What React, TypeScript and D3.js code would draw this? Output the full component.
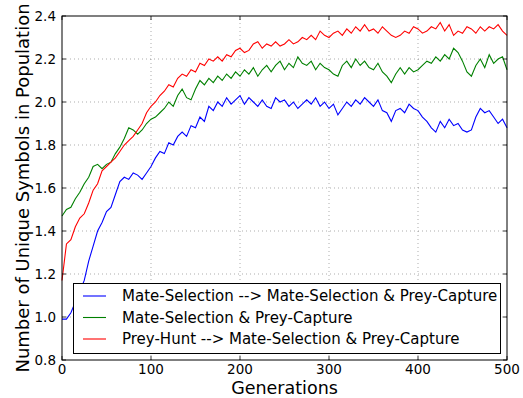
import { useEffect, useRef } from "react";
import * as d3 from "d3";

// generations sampled every 5 steps (0..500)
const generations = d3.range(0, 501, 5);

const mateSelectionToBoth = [
  0.99, 0.99, 1.02, 1.07, 1.12, 1.17, 1.26, 1.33, 1.40, 1.44,
  1.49, 1.51, 1.57, 1.63, 1.65, 1.64, 1.67, 1.66, 1.64, 1.67,
  1.70, 1.74, 1.77, 1.76, 1.81, 1.80, 1.84, 1.86, 1.84, 1.89,
  1.88, 1.93, 1.91, 1.98, 1.96, 2.00, 1.98, 2.02, 1.99, 2.01,
  2.03, 1.99, 2.02, 2.00, 1.98, 2.01, 1.98, 1.97, 2.02, 2.00,
  2.01, 1.98, 2.00, 1.97, 1.99, 2.01, 1.99, 2.02, 1.98, 2.00,
  1.97, 1.99, 1.94, 1.97, 2.00, 1.98, 2.01, 1.99, 2.02, 2.00,
  1.98, 2.01, 1.96, 1.95, 1.91, 1.96, 1.97, 1.95, 1.99, 1.97,
  1.96, 1.93, 1.91, 1.88, 1.86, 1.91, 1.88, 1.92, 1.89, 1.90,
  1.87, 1.86, 1.87, 1.93, 1.97, 1.95, 1.96, 1.93, 1.90, 1.92,
  1.88,
];

const mateSelectionPreyCapture = [
  1.47, 1.50, 1.51, 1.55, 1.58, 1.62, 1.65, 1.70, 1.71, 1.69,
  1.71, 1.72, 1.76, 1.79, 1.83, 1.88, 1.87, 1.85, 1.87, 1.90,
  1.92, 1.93, 1.95, 1.97, 2.00, 1.98, 2.03, 2.06, 2.02, 2.01,
  2.06, 2.10, 2.08, 2.11, 2.09, 2.12, 2.10, 2.13, 2.11, 2.14,
  2.12, 2.15, 2.13, 2.16, 2.12, 2.15, 2.17, 2.14, 2.17, 2.19,
  2.15, 2.18, 2.16, 2.21, 2.18, 2.17, 2.19, 2.15, 2.18, 2.16,
  2.15, 2.13, 2.12, 2.17, 2.19, 2.16, 2.20, 2.17, 2.19, 2.16,
  2.15, 2.18, 2.14, 2.12, 2.09, 2.13, 2.16, 2.13, 2.16, 2.14,
  2.15, 2.17, 2.19, 2.18, 2.21, 2.19, 2.22, 2.20, 2.25, 2.23,
  2.19, 2.14, 2.12, 2.17, 2.20, 2.16, 2.22, 2.18, 2.20, 2.21,
  2.15,
];

const preyHuntToBoth = [
  1.17, 1.34, 1.36, 1.42, 1.46, 1.48, 1.53, 1.59, 1.62, 1.68,
  1.70, 1.72, 1.74, 1.77, 1.80, 1.82, 1.84, 1.87, 1.90, 1.95,
  1.98, 2.00, 2.03, 2.05, 2.08, 2.07, 2.11, 2.13, 2.12, 2.15,
  2.14, 2.18, 2.17, 2.20, 2.19, 2.21, 2.19, 2.22, 2.21, 2.24,
  2.25, 2.23, 2.24, 2.27, 2.28, 2.25, 2.27, 2.26, 2.28, 2.26,
  2.27, 2.29, 2.27, 2.28, 2.30, 2.29, 2.31, 2.29, 2.33, 2.31,
  2.30, 2.32, 2.33, 2.31, 2.34, 2.32, 2.35, 2.33, 2.36, 2.33,
  2.34, 2.32, 2.35, 2.33, 2.31, 2.30, 2.31, 2.33, 2.32, 2.35,
  2.34, 2.32, 2.33, 2.35, 2.34, 2.37, 2.33, 2.36, 2.31, 2.33,
  2.32, 2.35, 2.34, 2.32, 2.35, 2.33, 2.35, 2.34, 2.36, 2.33,
  2.31,
];

const seriesNames = [
  "Mate-Selection --> Mate-Selection & Prey-Capture",
  "Mate-Selection & Prey-Capture",
  "Prey-Hunt --> Mate-Selection & Prey-Capture",
];
const seriesColors = ["#0000ff", "#008000", "#ff0000"];
const xTicks = [0, 100, 200, 300, 400, 500];
const yTicks = [0.8, 1.0, 1.2, 1.4, 1.6, 1.8, 2.0, 2.2, 2.4];

const width = 523;
const height = 398;
const margin = { top: 16, right: 16, bottom: 38, left: 62 };
const font = "DejaVu Sans, sans-serif";

export default function App() {
  const ref = useRef<SVGSVGElement>(null);

  useEffect(() => {
    const svg = d3.select(ref.current);
    svg.selectAll("*").remove();

    const x = d3.scaleLinear().domain([0, 500]).range([margin.left, width - margin.right]);
    const y = d3.scaleLinear().domain([0.8, 2.4]).range([height - margin.bottom, margin.top]);
    const [x0, x1] = x.range();
    const [y0, y1] = y.range();

    svg.append("rect").attr("width", width).attr("height", height).attr("fill", "#fff");

    // dotted grid
    const grid = svg.append("g").attr("stroke", "#000").attr("stroke-opacity", 0.55)
      .attr("stroke-width", 0.6).attr("stroke-dasharray", "1,3");
    grid.selectAll("line.gx").data(xTicks.slice(1, -1)).join("line")
      .attr("x1", d => x(d)).attr("x2", d => x(d)).attr("y1", y0).attr("y2", y1);
    grid.selectAll("line.gy").data(yTicks.slice(1, -1)).join("line")
      .attr("x1", x0).attr("x2", x1).attr("y1", d => y(d)).attr("y2", d => y(d));

    const all = [mateSelectionToBoth, mateSelectionPreyCapture, preyHuntToBoth];
    const line = d3.line<number>()
      .x((_, i) => x(generations[i]))
      .y(d => y(d));

    svg.append("g").selectAll("path").data(all).join("path")
      .attr("d", d => line(d))
      .attr("fill", "none")
      .attr("stroke", (_, i) => seriesColors[i])
      .attr("stroke-width", 1.1);

    // frame
    svg.append("rect").attr("x", x0).attr("y", y1).attr("width", x1 - x0).attr("height", y0 - y1)
      .attr("fill", "none").attr("stroke", "#000").attr("stroke-width", 1);

    // inward ticks on all four sides
    const ticks = svg.append("g").attr("stroke", "#000").attr("stroke-width", 0.8);
    xTicks.forEach(t => {
      ticks.append("line").attr("x1", x(t)).attr("x2", x(t)).attr("y1", y0).attr("y2", y0 - 4);
      ticks.append("line").attr("x1", x(t)).attr("x2", x(t)).attr("y1", y1).attr("y2", y1 + 4);
    });
    yTicks.forEach(t => {
      ticks.append("line").attr("x1", x0).attr("x2", x0 + 4).attr("y1", y(t)).attr("y2", y(t));
      ticks.append("line").attr("x1", x1).attr("x2", x1 - 4).attr("y1", y(t)).attr("y2", y(t));
    });

    svg.append("g").selectAll("text").data(xTicks).join("text")
      .attr("x", d => x(d)).attr("y", y0 + 14)
      .attr("text-anchor", "middle").attr("font-family", font).attr("font-size", 13.5)
      .text(d => d);
    svg.append("g").selectAll("text").data(yTicks).join("text")
      .attr("x", x0 - 6).attr("y", d => y(d) + 5)
      .attr("text-anchor", "end").attr("font-family", font).attr("font-size", 13.5)
      .text(d => d3.format(".1f")(d));

    svg.append("text").attr("x", (x0 + x1) / 2).attr("y", 394)
      .attr("text-anchor", "middle").attr("font-family", font).attr("font-size", 17.5)
      .text("Generations");
    svg.append("text").attr("transform", `translate(29,${(y0 + y1) / 2}) rotate(-90)`)
      .attr("text-anchor", "middle").attr("font-family", font).attr("font-size", 18)
      .text("Number of Unique Symbols in Population");

    // legend
    const lg = svg.append("g");
    lg.append("rect").attr("x", 73.5).attr("y", 283.5).attr("width", 427).attr("height", 70)
      .attr("fill", "#fff").attr("stroke", "#000").attr("stroke-width", 1);
    seriesNames.forEach((name, i) => {
      const ly = 296 + i * 21.5;
      lg.append("line").attr("x1", 83).attr("x2", 106).attr("y1", ly).attr("y2", ly)
        .attr("stroke", seriesColors[i]).attr("stroke-width", 1.1);
      lg.append("text").attr("x", 122).attr("y", ly + 5)
        .attr("font-family", font).attr("font-size", 15).text(name);
    });
  }, []);

  return (
    <svg ref={ref} width={width} height={height}
      style={{ position: "absolute", left: 0, top: 0 }} />
  );
}
